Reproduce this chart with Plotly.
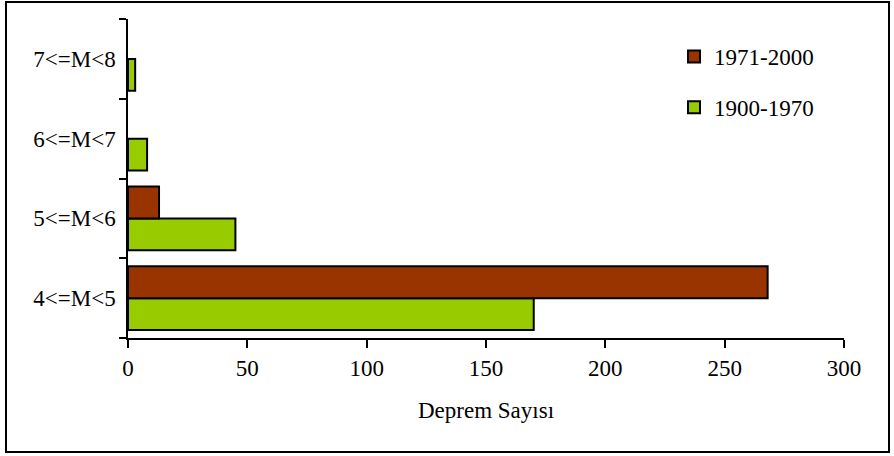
import plotly.graph_objects as go

# Magnitude classes and earthquake counts per period
categories = ["4<=M<5", "5<=M<6", "6<=M<7", "7<=M<8"]
counts_1900_1970 = [170, 45, 8, 3]
counts_1971_2000 = [268, 13, 0, 0]
x_ticks = [0, 50, 100, 150, 200, 250, 300]

W, H = 894, 456
ML, MR, MT, MB = 128, 50, 19, 118
FONT = "Liberation Serif, Times New Roman, serif"
FS = 23


def outline_widths(values):
    # empty classes get no outline so nothing is drawn for them
    return [2 if v > 0 else 0 for v in values]


fig = go.Figure()
fig.add_trace(go.Bar(
    y=categories, x=counts_1900_1970, orientation="h", name="1900-1970",
    marker=dict(color="#99CC00",
                line=dict(color="black", width=outline_widths(counts_1900_1970))),
    legendgroup="g2", legendrank=2,
))
fig.add_trace(go.Bar(
    y=categories, x=counts_1971_2000, orientation="h", name="1971-2000",
    marker=dict(color="#993300",
                line=dict(color="black", width=outline_widths(counts_1971_2000))),
    legendgroup="g1", legendrank=1,
))

pw = W - ML - MR
ph = H - MT - MB

# outer frame around the whole chart
fig.add_shape(
    type="rect", xref="paper", yref="paper",
    x0=(6 - ML) / pw, x1=(889 - ML) / pw,
    y0=(H - MB - 452) / ph, y1=(H - MB - 2) / ph,
    line=dict(color="black", width=2), fillcolor="rgba(0,0,0,0)",
)

fig.update_layout(
    width=W, height=H,
    margin=dict(l=ML, r=MR, t=MT, b=MB),
    paper_bgcolor="white", plot_bgcolor="white",
    barmode="group", bargap=0.2, bargroupgap=0,
    font=dict(family=FONT, size=FS, color="black"),
    showlegend=True,
    legend=dict(
        x=(674 - ML) / pw, y=(H - MB - 35) / ph, xanchor="left", yanchor="top",
        traceorder="grouped", tracegroupgap=18,
        bgcolor="rgba(0,0,0,0)", font=dict(family=FONT, size=FS),
        itemwidth=30,
    ),
    xaxis=dict(
        range=[0, 300], tickvals=x_ticks, ticks="outside", ticklen=8,
        tickwidth=2, tickcolor="black", showline=True, linecolor="black",
        linewidth=2, showgrid=False, zeroline=False,
        title=dict(text="Deprem Sayısı", font=dict(family=FONT, size=FS), standoff=22),
        tickfont=dict(family=FONT, size=FS),
    ),
    yaxis=dict(
        type="category", categoryorder="array", categoryarray=categories,
        ticks="outside", tickson="boundaries", ticklen=7, tickwidth=2,
        tickcolor="black", showline=True, linecolor="black", linewidth=2,
        showgrid=False, tickfont=dict(family=FONT, size=FS), ticksuffix=" ",
    ),
)

fig.write_html("out.html")
